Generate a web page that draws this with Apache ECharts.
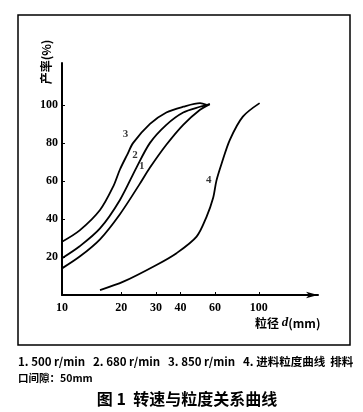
<!DOCTYPE html>
<html><head><meta charset="utf-8">
<script src="https://cdn.jsdelivr.net/npm/echarts@6/dist/echarts.min.js"></script>
<style>html,body{margin:0;padding:0;background:#fff}#c{width:363px;height:412px}</style>
</head><body><div id="c"></div>
<script>
// particle size d (mm), yield (%)
const d1 = [10, 12.3, 15.6, 19.7, 24.8, 28, 33.9, 41.3, 50.3, 56.4];
const y1 = [14, 20.2, 29.3, 42.5, 58.3, 67, 79, 89.5, 97.4, 100.4];
const d2 = [10, 12.3, 15.6, 19.7, 23.9, 28, 33.9, 41.3, 50.3, 56.4];
const y2 = [19.3, 25.6, 35, 50, 67, 80, 89.5, 96, 99, 100.4];
const d3 = [10, 12.3, 15.6, 18.2, 19.7, 21.5, 23.0, 28, 33.9, 41.3, 50.3, 54.3];
const y3 = [28, 34, 44.7, 57, 66, 74, 80, 90, 96, 99, 100.9, 100];
const d4 = [15.6, 20.5, 30.2, 38.2, 48.3, 54.2, 58.6, 60.9, 64.7, 71.3, 83.0, 101];
const y4 = [2.6, 7, 15.8, 22, 30.7, 41, 51, 60, 69, 81.6, 93.8, 100.9];
const curveNames = ['1', '2', '3', '4'];
const labelD = [25.4, 23.5, 21.0, 55.7];
const labelY = [67.5, 73.7, 84.7, 60.5];
const xTicks = [10, 20, 30, 40, 60, 100];
const yTicks = [20, 40, 60, 80, 100];

const zip = (a, b) => a.map((v, i) => [v, b[i]]);
const serif = "'Liberation Serif', 'DejaVu Serif', serif";
const cjk = "'Noto Sans CJK SC', sans-serif";
const lineStyle = { color: '#000', width: 1.8 };
const mk = (name, d, y) => ({
  name, type: 'line', data: zip(d, y), smooth: 0.3, symbol: 'none',
  lineStyle, animation: false
});

const chart = echarts.init(document.getElementById('c'));
chart.setOption({
  backgroundColor: '#fff',
  animation: false,
  grid: { left: 62, right: 45, top: 63, bottom: 117 },
  xAxis: {
    type: 'log', logBase: 10, min: 10, max: 200,
    axisLine: { lineStyle: { color: '#000', width: 2 }, symbol: ['none', 'arrow'], symbolSize: [5, 12] },
    axisTick: { inside: true, length: 3, customValues: xTicks, lineStyle: { color: '#000' } },
    axisLabel: { customValues: xTicks, color: '#000', fontFamily: serif, fontSize: 12, fontWeight: 'bold', margin: 7,
      formatter: v => String(Math.round(v)) },
    splitLine: { show: false }, minorTick: { show: false }
  },
  yAxis: {
    type: 'value', min: 0, max: 122,
    axisLine: { show: true, lineStyle: { color: '#000', width: 2 } },
    axisTick: { inside: true, length: 3, customValues: yTicks, lineStyle: { color: '#000' } },
    axisLabel: { customValues: yTicks, color: '#000', fontFamily: serif, fontSize: 12, fontWeight: 'bold', margin: 4 },
    splitLine: { show: false }
  },
  series: [
    mk('1', d1, y1), mk('2', d2, y2), mk('3', d3, y3), mk('4', d4, y4),
    {
      type: 'scatter', symbolSize: 0, animation: false,
      data: labelD.map((v, i) => ({ value: [v, labelY[i]], name: curveNames[i] })),
      label: { show: true, position: 'inside', formatter: p => p.name, color: '#000',
        fontFamily: serif, fontSize: 11, fontWeight: 'bold' }
    }
  ],
  graphic: [
    { type: 'rect', shape: { x: 18, y: 15, width: 332, height: 330 }, style: { fill: null, stroke: '#000', lineWidth: 1.5 } },
    { type: 'text', x: 46, y: 62, rotation: Math.PI / 2,
      style: { text: '产率(%)', fill: '#000', font: "bold 12px 'Noto Sans CJK SC', sans-serif", align: 'center', verticalAlign: 'middle' } },
    { type: 'text', x: 255, y: 323,
      style: { text: '{a|粒径 }{i|d}{a|(mm)}', verticalAlign: 'middle',
        rich: { a: { fontFamily: cjk, fontSize: 12, fontWeight: 'bold', fill: '#000' },
                i: { fontFamily: serif, fontSize: 13, fontStyle: 'italic', fontWeight: 'bold', fill: '#000' } } } },
    { type: 'text', x: 18, y: 362,
      style: { text: '1. 500 r/min   2. 680 r/min   3. 850 r/min   4. 进料粒度曲线  排料', fill: '#000',
        font: "bold 11.5px 'Noto Sans CJK SC', sans-serif", verticalAlign: 'middle' } },
    { type: 'text', x: 18, y: 378,
      style: { text: '口间隙：50mm', fill: '#000', font: "bold 10.5px 'Noto Sans CJK SC', sans-serif", verticalAlign: 'middle' } },
    { type: 'text', x: 187, y: 399,
      style: { text: '图 1  转速与粒度关系曲线', fill: '#000', font: "bold 16px 'Noto Sans CJK SC', sans-serif", align: 'center', verticalAlign: 'middle' } }
  ]
});
</script></body></html>
